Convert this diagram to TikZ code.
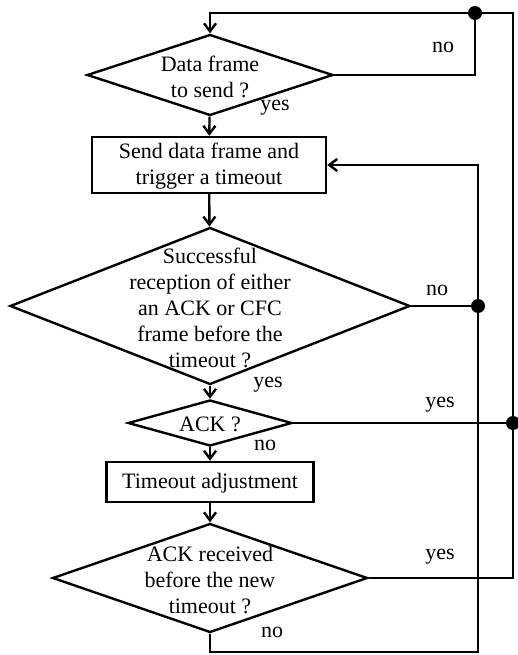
\documentclass[tikz,border=0pt]{standalone}
\usepackage{fontspec}
\setmainfont{Liberation Serif}
\usetikzlibrary{arrows.meta,shapes.geometric}

\begin{document}
\begin{tikzpicture}[x=1pt, y=-1pt, line width=2.4pt,
    test/.style={draw, diamond, inner sep=0pt},
    action/.style={draw, rectangle, inner sep=0pt},
    texte/.style={align=center, inner sep=0pt, font=\fontsize{22}{26}\selectfont},
    reponse/.style={inner sep=0pt, font=\fontsize{22}{26}\selectfont},
    fleche/.style={-{Straight Barb[length=8pt,width=12pt]}},
    jonction/.style={fill, circle, inner sep=0pt, minimum size=14pt}]
    \useasboundingbox (0,0) rectangle (517,655);
    % Blocs
    \node[test, minimum width=246pt, minimum height=81pt] at (210,75) (d1) {};
    \node[action, minimum width=234pt, minimum height=56pt] at (209,165) (b1) {};
    \node[test, minimum width=400pt, minimum height=157pt] at (210,306) (d2) {};
    \node[test, minimum width=164pt, minimum height=46pt] at (210,423) (d3) {};
    \node[action, minimum width=207pt, minimum height=40pt] at (210,482) (b2) {};
    \node[test, minimum width=315pt, minimum height=109pt] at (210,578) (d4) {};
    % Textes
    \node[texte] at (210,77) (t1) {Data frame\\to send ?};
    \node[texte] at (209,166) (t2) {Send data frame and\\trigger a timeout};
    \node[texte] at (210,308) (t3) {Successful\\reception of either\\an ACK or CFC\\frame before the\\timeout ?};
    \node[texte] at (210,424) (t4) {ACK ?};
    \node[texte] at (210,483) (t5) {Timeout adjustment};
    \node[texte] at (210,580) (t6) {ACK received\\before the new\\timeout ?};
    % Jonctions
    \node[jonction] at (475,13) (j1) {};
    \node[jonction] at (478,306) (j2) {};
    \node[jonction] at (513,423) (j3) {};
    \coordinate (c1) at (513,13);
    \coordinate (c2) at (513,578);
    \coordinate (c3) at (210,652);
    \coordinate (c4) at (478,652);
    % Liens
    \draw[fleche] (d1) -- (b1);
    \draw[fleche] (b1) -- (d2);
    \draw[fleche] (d2) -- (d3);
    \draw[fleche] (d3) -- (b2);
    \draw[fleche] (b2) -- (d4);
    \draw (d1.east) -| (j1.center);
    \draw[fleche] (d4.east) -| (c1) -| (d1.north);
    \draw (d3.east) -- (j3.center);
    \draw (d2.east) -- (j2.center);
    \draw[fleche] (d4.south) -- (c3) -- (c4) |- (b1.east);
    % Reponses
    \node[reponse] at (443,47) {no};
    \node[reponse] at (275,108) {yes};
    \node[reponse] at (437,290) {no};
    \node[reponse] at (268,385) {yes};
    \node[reponse] at (440,405) {yes};
    \node[reponse] at (265,445) {no};
    \node[reponse] at (440,557) {yes};
    \node[reponse] at (272,632) {no};
\end{tikzpicture}
\end{document}
